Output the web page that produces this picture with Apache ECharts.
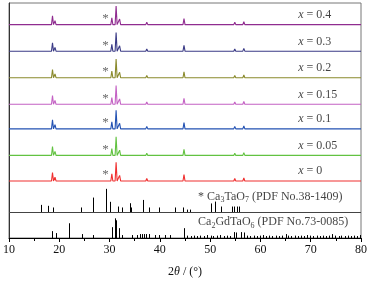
<!DOCTYPE html>
<html>
<head>
<meta charset="utf-8">
<script src="https://cdn.jsdelivr.net/npm/echarts@6/dist/echarts.min.js"></script>
<style>
  html, body { margin: 0; padding: 0; background: #fff; }
  #chart { width: 370px; height: 283px; }
</style>
</head>
<body>
<div id="chart"></div>
<script>
// 样品衍射峰位置 (2θ) 与相对强度 (%)
const peakPos = [18.65, 19.15, 21.9, 24.6, 29.2, 30.45, 31.3, 32.0, 36.4, 37.4, 40.4, 44.8, 47.5, 49.5, 51.6, 54.9, 56.7, 65.1, 74.0]
const sampleNames = ['0', '0.05', '0.1', '0.15', '0.2', '0.3', '0.4']
const sampleColors = ['#f03030', '#62c241', '#2352b3', '#c462c4', '#8a8a2c', '#3b3b86', '#902c90']
const int_x0 = [45, 20, 10, 5, 3, 38, 100, 30, 10, 13, 4, 34, 3, 3, 3, 13, 16, 5, 7]
const int_x005 = [47, 21, 10, 5, 3, 36, 100, 28, 10, 12, 4, 32, 3, 3, 3, 12, 15, 5, 7]
const int_x01 = [48, 22, 10, 5, 3, 37, 100, 30, 10, 13, 4, 33, 3, 3, 3, 13, 16, 5, 7]
const int_x015 = [46, 21, 10, 5, 3, 36, 100, 29, 9, 12, 4, 32, 3, 3, 3, 12, 15, 5, 7]
const int_x02 = [44, 20, 9, 5, 3, 35, 100, 29, 9, 12, 4, 31, 3, 3, 3, 12, 15, 5, 7]
const int_x03 = [45, 20, 9, 5, 3, 36, 100, 29, 9, 12, 4, 31, 3, 3, 3, 12, 15, 5, 7]
const int_x04 = [47, 21, 10, 5, 3, 37, 100, 30, 10, 13, 4, 32, 3, 3, 3, 13, 16, 5, 7]
const sampleInts = [int_x0, int_x005, int_x01, int_x015, int_x02, int_x03, int_x04]

// Ca3TaO7 (PDF No.38-1409)
const ctPos = [16.4, 17.8, 18.7, 24.4, 26.7, 29.2, 30.1, 31.7, 32.5, 34.0, 34.3, 36.7, 37.9, 39.9, 43.0, 44.7, 45.3, 46.0, 50.1, 50.9, 52.1, 54.3, 54.8, 55.3, 55.7]
const ctInt = [32, 28, 21, 21, 63, 100, 45, 25, 21, 39, 21, 53, 21, 21, 21, 21, 12, 12, 38, 46, 25, 25, 25, 25, 25]

// Ca2GdTaO6 (PDF No.73-0085)
const cgPos = [18.6, 19.3, 21.9, 24.6, 26.75, 30.5, 31.1, 31.35, 31.95, 32.5, 34.5, 35.4, 36.0, 36.5, 36.9, 37.3, 37.8, 39.1, 39.9, 41.0, 42.0,
  44.8, 45.3, 46.1, 46.7, 47.4, 48.0, 48.8, 49.3, 50.1, 50.6, 51.3, 51.9, 52.7, 53.3, 54.0, 54.75, 55.2, 56.2, 56.7, 57.4, 58.0, 58.7, 59.3,
  59.9, 60.6, 61.2, 61.7, 62.4, 63.0, 63.7, 64.3, 65.0, 65.5, 66.1, 66.8, 67.5, 68.0, 68.7, 69.2, 69.9, 70.5, 71.2, 71.8, 72.4, 73.1,
  73.6, 74.3, 74.9, 75.6, 76.1, 76.8, 77.4, 78.0, 78.6, 79.2, 79.8]
const cgInt = [35, 25, 75, 20, 15, 55, 100, 90, 50, 15, 15, 15, 20, 20, 20, 20, 20, 15, 15, 15, 15,
  50, 12, 10, 12, 10, 12, 10, 15, 12, 10, 12, 15, 10, 12, 10, 30, 28, 30, 28, 12, 10, 12, 10,
  12, 15, 10, 12, 10, 12, 10, 12, 20, 12, 10, 12, 10, 12, 10, 15, 12, 10, 12, 10, 12, 10,
  12, 20, 12, 10, 12, 10, 12, 10, 12, 10, 15]

const tickLabels = ['10', '20', '30', '40', '50', '60', '70', '80']

// 堆叠布局（纵轴按像素单位）
const baseOffsets = [58, 84, 111, 136, 163, 190, 217]
const traceScale = 0.19
const ctBase = 26
const ctScale = 0.24
const cgScale = 0.2
const halfWidth = 0.2
const serif = '"Liberation Serif", "DejaVu Serif", serif'

function buildTrace(ints, base) {
  const pts = [[10, base]]
  peakPos.forEach((p, i) => {
    pts.push([p - halfWidth, base])
    pts.push([p, base + ints[i] * traceScale])
    pts.push([p + halfWidth, base])
  })
  pts.push([80, base])
  return pts
}

function stickItem(params, api) {
  const p0 = api.coord([api.value(0), api.value(1)])
  const p1 = api.coord([api.value(0), api.value(2)])
  const x = Math.round(p0[0]) + 0.5
  return {
    type: 'line',
    shape: { x1: x, y1: p0[1], x2: x, y2: p1[1] },
    style: { stroke: '#000', lineWidth: 1 }
  }
}

const subRich = {
  t: { fontFamily: serif, fontSize: 12, color: '#111' },
  s: { fontFamily: serif, fontSize: 8, color: '#111', padding: [7, 0, 0, 0] },
  i: { fontFamily: serif, fontSize: 12, color: '#111', fontStyle: 'italic' }
}

const series = []
sampleInts.forEach((ints, k) => {
  series.push({
    type: 'line',
    data: buildTrace(ints, baseOffsets[k]),
    showSymbol: false,
    symbol: 'none',
    silent: true,
    lineStyle: { width: 1.1, color: sampleColors[k] },
    z: 3
  })
})

// 样品标签
series.push({
  type: 'scatter',
  symbolSize: 0,
  silent: true,
  data: sampleNames.map((n, k) => ({ value: [67.5, baseOffsets[k] + 10], name: n })),
  label: {
    show: true,
    position: 'right',
    distance: 0,
    formatter: p => '{i|x}{t| = ' + p.name + '}',
    rich: subRich
  }
})

// 杂相标记 *
series.push({
  type: 'scatter',
  symbolSize: 0,
  silent: true,
  data: baseOffsets.map(b => [29.2, b + 6]),
  label: {
    show: true,
    position: 'inside',
    formatter: '*',
    fontFamily: serif,
    fontSize: 13,
    color: '#444'
  }
})

// 标准卡片
series.push({
  type: 'custom',
  renderItem: stickItem,
  silent: true,
  encode: { x: 0, y: [1, 2] },
  data: ctPos.map((p, i) => [p, ctBase, ctBase + ctInt[i] * ctScale]),
  markLine: {
    silent: true,
    symbol: 'none',
    label: { show: false },
    lineStyle: { color: '#444', width: 1, type: 'solid' },
    data: [{ yAxis: ctBase }]
  }
})
series.push({
  type: 'custom',
  renderItem: stickItem,
  silent: true,
  encode: { x: 0, y: [1, 2] },
  data: cgPos.map((p, i) => [p, 0, cgInt[i] * cgScale])
})

// 卡片名称
series.push({
  type: 'scatter',
  symbolSize: 0,
  silent: true,
  data: [
    { value: [47.6, 42], name: '{t|* Ca}{s|3}{t|TaO}{s|7}{t| (PDF No.38-1409)}' },
    { value: [47.6, 16], name: '{t|Ca}{s|2}{t|GdTaO}{s|6}{t| (PDF No.73-0085)}' }
  ],
  label: {
    show: true,
    position: 'right',
    distance: 0,
    formatter: p => p.name,
    rich: subRich
  }
})

const myChart = echarts.init(document.getElementById('chart'), null, { renderer: 'canvas' })
myChart.setOption({
  animation: false,
  backgroundColor: '#fff',
  grid: {
    left: 8,
    right: 8,
    top: 3,
    bottom: 41,
    show: true,
    borderColor: '#777',
    borderWidth: 1
  },
  xAxis: {
    type: 'value',
    min: 10,
    max: 80,
    interval: 10,
    name: '2{i|θ}{t| / (°)}',
    nameLocation: 'middle',
    nameGap: 28,
    nameTextStyle: {
      fontFamily: serif,
      fontSize: 12,
      color: '#111',
      rich: subRich
    },
    axisLine: { lineStyle: { color: '#000', width: 1 } },
    axisTick: { show: true, inside: false, length: 4, lineStyle: { color: '#000' } },
    minorTick: { show: true, splitNumber: 2, length: 3, lineStyle: { color: '#000' } },
    splitLine: { show: false },
    axisLabel: {
      margin: 6,
      fontFamily: serif,
      fontSize: 12,
      color: '#111',
      formatter: v => tickLabels[Math.round((v - 10) / 10)]
    }
  },
  yAxis: {
    type: 'value',
    min: 0,
    max: 239,
    axisLine: { show: true, lineStyle: { color: '#333' } },
    axisTick: { show: false },
    axisLabel: { show: false },
    splitLine: { show: false }
  },
  series: series
})
</script>
</body>
</html>
